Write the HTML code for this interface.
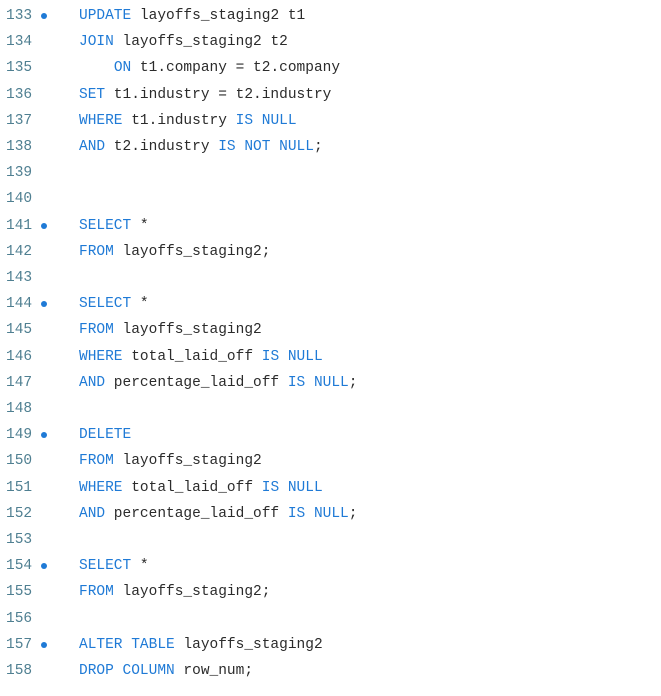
<!DOCTYPE html>
<html><head><style>
body{margin:0;background:#fff;width:661px;height:696px;overflow:hidden}
.l{position:absolute;left:0;height:26px;font-family:"Liberation Mono",monospace;font-size:14.5px;line-height:26px;white-space:pre;color:#2b2b2b}
.n{position:absolute;left:6px;color:#4f7f91}
.d{position:absolute;left:41px;top:10px;width:6px;height:6px;border-radius:50%;background:#1f7ad6}
.c{position:absolute;left:79px}
.k{color:#1f7ad6}
</style></head><body>
<div id="w"></div>
<script>
const L=[
["133",1,'<span class="k">UPDATE</span> layoffs_staging2 t1'],
["134",0,'<span class="k">JOIN</span> layoffs_staging2 t2'],
["135",0,'    <span class="k">ON</span> t1.company = t2.company'],
["136",0,'<span class="k">SET</span> t1.industry = t2.industry'],
["137",0,'<span class="k">WHERE</span> t1.industry <span class="k">IS NULL</span>'],
["138",0,'<span class="k">AND</span> t2.industry <span class="k">IS NOT NULL</span>;'],
["139",0,''],["140",0,''],
["141",1,'<span class="k">SELECT</span> *'],
["142",0,'<span class="k">FROM</span> layoffs_staging2;'],
["143",0,''],
["144",1,'<span class="k">SELECT</span> *'],
["145",0,'<span class="k">FROM</span> layoffs_staging2'],
["146",0,'<span class="k">WHERE</span> total_laid_off <span class="k">IS NULL</span>'],
["147",0,'<span class="k">AND</span> percentage_laid_off <span class="k">IS NULL</span>;'],
["148",0,''],
["149",1,'<span class="k">DELETE</span>'],
["150",0,'<span class="k">FROM</span> layoffs_staging2'],
["151",0,'<span class="k">WHERE</span> total_laid_off <span class="k">IS NULL</span>'],
["152",0,'<span class="k">AND</span> percentage_laid_off <span class="k">IS NULL</span>;'],
["153",0,''],
["154",1,'<span class="k">SELECT</span> *'],
["155",0,'<span class="k">FROM</span> layoffs_staging2;'],
["156",0,''],
["157",1,'<span class="k">ALTER TABLE</span> layoffs_staging2'],
["158",0,'<span class="k">DROP COLUMN</span> row_num;']];
let h='';
L.forEach((r,i)=>{const t=3+i*26.2;
h+=`<div class="l" style="top:${t}px;width:661px"><span class="n">${r[0]}</span>${r[1]?'<span class="d"></span>':''}<span class="c">${r[2]}</span></div>`;});
document.getElementById('w').innerHTML=h;
</script>
</body></html>
